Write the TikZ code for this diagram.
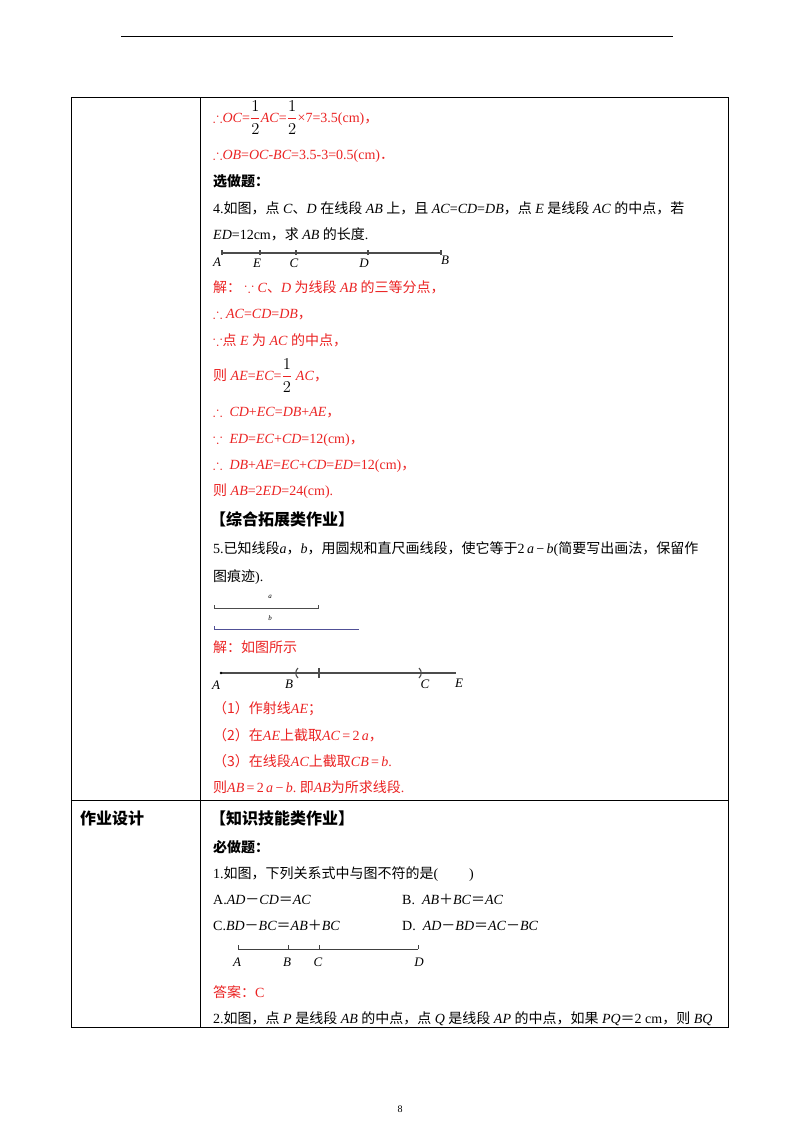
\documentclass[tikz,border=0pt]{standalone}
\usepackage{amsmath,amssymb}
\usepackage{fontspec}
\setmainfont{Liberation Serif}
\newfontfamily\cjk{Noto Sans CJK SC}
\newcommand\z[1]{{\cjk #1}}
\newcommand\iv[1]{\textit{#1}}
\newcommand\hf{\raisebox{-0.1ex}{\scalebox{1.15}{$\dfrac{\textcolor{black}{1}}{\textcolor{black}{2}}$}}}
\definecolor{ans}{RGB}{235,35,35}
\definecolor{bl}{RGB}{80,80,150}
\begin{document}
\begin{tikzpicture}[x=1pt,y=-1pt,
  t/.style={anchor=base west,inner sep=0pt,font=\fontsize{14}{16}\selectfont},
  r/.style={t,text=ans},
  lb/.style={anchor=base,inner sep=0pt,font=\fontsize{13}{15}\selectfont\itshape},
  rule/.style={line width=0.8pt},
  seg/.style={line width=1.1pt,black!70}]
\useasboundingbox (0,0) rectangle (800,1132);
\fill[white] (0,0) rectangle (800,1132);
% header and table
\draw[line width=1pt] (121,37) coordinate (h1) -- (673,37) coordinate (h2);
\coordinate (tl) at (71,97); \coordinate (tr) at (728,97);
\coordinate (bl) at (71,1027); \coordinate (br) at (728,1027);
\draw[rule] (tl) -- (tr) -- (br) -- (bl) -- cycle;
\draw[rule] (200,97) coordinate (d1) -- (200,1027) coordinate (d2);
\draw[rule] (71,800) coordinate (m1) -- (728,800) coordinate (m2);
% content
\node[r] (l1) at (213,122) {$\therefore$\iv{OC}=\hf\iv{AC}=\hf×7=3.5(cm)\z{，}};
\node[r] (l2) at (213,159) {$\therefore$\iv{OB}=\iv{OC-BC}=3.5-3=0.5(cm)\z{．}};
\node[t] (l3) at (213,186) {\z{\bfseries 选做题：}};
\node[t] (l4) at (213,213) {4.\z{如图，点} \iv{C}\z{、}\iv{D} \z{在线段} \iv{AB} \z{上，且} \iv{AC}=\iv{CD}=\iv{DB}\z{，点} \iv{E} \z{是线段} \iv{AC} \z{的中点，若}};
\node[t] (l5) at (213,239) {\iv{ED}=12cm\z{，求} \iv{AB} \z{的长度}.};
% figure 1
\draw[seg] (222,253) coordinate (fA) -- (441,253) coordinate (fB);
\foreach \x in {222,260,296,368,441} \draw[seg] (\x,250) -- (\x,255);
\node[lb] (pA) at (217,266) {A};
\node[lb] (pE) at (257,267) {E};
\node[lb] (pC) at (294,267) {C};
\node[lb] (pD) at (364,267) {D};
\node[lb] (pB) at (445,264) {B};
\node[r] (l6) at (213,292) {\z{解：} $\because$ \iv{C}\z{、}\iv{D} \z{为线段} \iv{AB} \z{的三等分点，}};
\node[r] (l7) at (213,318) {$\therefore$ \iv{AC}=\iv{CD}=\iv{DB}\z{，}};
\node[r] (l8) at (213,345) {$\because$\z{点} \iv{E} \z{为} \iv{AC} \z{的中点，}};
\node[r] (l9) at (213,380) {\z{则} \iv{AE}=\iv{EC}=\hf\ \iv{AC}\z{，}};
\node[r] (l10) at (213,416) {$\therefore$ \ \iv{CD}+\iv{EC}=\iv{DB}+\iv{AE}\z{，}};
\node[r] (l11) at (213,443) {$\because$ \ \iv{ED}=\iv{EC}+\iv{CD}=12(cm)\z{，}};
\node[r] (l12) at (213,469) {$\therefore$ \ \iv{DB}+\iv{AE}=\iv{EC}+\iv{CD}=\iv{ED}=12(cm)\z{，}};
\node[r] (l13) at (213,495) {\z{则} \iv{AB}=2\iv{ED}=24(cm).};
\node[t,font=\fontsize{16}{18}\selectfont] (l14) at (210,525) {\z{\bfseries 【综合拓展类作业】}};
\node[t] (l15) at (213,553) {5.\z{已知线段}\iv{a}\z{，}\iv{b}\z{，用圆规和直尺画线段，使它等于}2\,\iv{a}\,−\,\iv{b}(\z{简要写出画法，保留作}};
\node[t] (l16) at (213,581) {\z{图痕迹}).};
% figure a b
\node[lb,font=\fontsize{7}{8}\selectfont\itshape] (la) at (270,598) {a};
\draw[black!70,line width=0.6pt] (214,605) coordinate (a1) -- (214,608) -- (318,608) -- (318,605) coordinate (a2);
\node[lb,font=\fontsize{7}{8}\selectfont\itshape] (lbb) at (270,620) {b};
\draw[bl,line width=0.6pt] (214,626) coordinate (b1) -- (214,629) -- (359,629) coordinate (b2);
\node[r] (l17) at (213,652) {\z{解：如图所示}};
% figure 2
\draw[seg] (221,673) coordinate (gA) -- (456,673) coordinate (gE);
\fill[black] (221,673) circle (1.3);
\draw[seg] (298,668) .. controls (295,671) and (295,675) .. (298,678);
\draw[seg] (319,668) -- (319,678);
\draw[seg] (419,668) .. controls (422,671) and (422,675) .. (419,678);
\node[lb] (qA) at (216,689) {A};
\node[lb] (qB) at (289,688) {B};
\node[lb] (qC) at (425,688) {C};
\node[lb] (qE) at (459,687) {E};
\node[r] (l18) at (213,713) {\z{（1）作射线}\iv{AE}\z{；}};
\node[r] (l19) at (213,740) {\z{（2）在}\iv{AE}\z{上截取}\iv{AC}\,=\,2\,\iv{a}\z{，}};
\node[r] (l20) at (213,766) {\z{（3）在线段}\iv{AC}\z{上截取}\iv{CB}\,=\,\iv{b}.};
\node[r] (l21) at (213,792) {\z{则}\iv{AB}\,=\,2\,\iv{a}\,−\,\iv{b}.\ \z{即}\iv{AB}\z{为所求线段}.};
\node[t,font=\fontsize{16}{18}\selectfont] (c1) at (80,824) {\z{\bfseries 作业设计}};
\node[t,font=\fontsize{16}{18}\selectfont] (l22) at (210,824) {\z{\bfseries 【知识技能类作业】}};
\node[t] (l23) at (213,852) {\z{\bfseries 必做题：}};
\node[t] (l24) at (213,878) {1.\z{如图，下列关系式中与图不符的是}(\hspace{2.2em})};
\node[t] (l25) at (213,904) {A.\iv{AD}\z{－}\iv{CD}\z{＝}\iv{AC}};
\node[t] (l26) at (402,904) {B.\ \ \iv{AB}\z{＋}\iv{BC}\z{＝}\iv{AC}};
\node[t] (l27) at (213,930) {C.\iv{BD}\z{－}\iv{BC}\z{＝}\iv{AB}\z{＋}\iv{BC}};
\node[t] (l28) at (402,930) {D.\ \ \iv{AD}\z{－}\iv{BD}\z{＝}\iv{AC}\z{－}\iv{BC}};
% figure 3
\draw[black!75,line width=0.7pt] (238,949) coordinate (kA) -- (418,949) coordinate (kD);
\foreach \x in {238,288,319,418} \draw[black!75,line width=0.7pt] (\x,945) -- (\x,949);
\node[lb] (sA) at (237,966) {A};
\node[lb] (sB) at (287,966) {B};
\node[lb] (sC) at (318,966) {C};
\node[lb] (sD) at (419,966) {D};
\node[r] (l29) at (213,997) {\z{答案：}C};
\node[t] (l30) at (213,1023) {2.\z{如图，点} \iv{P} \z{是线段} \iv{AB} \z{的中点，点} \iv{Q} \z{是线段} \iv{AP} \z{的中点，如果} \iv{PQ}\z{＝}2 cm\z{，则} \iv{BQ}};
\node[anchor=base,inner sep=0pt,font=\fontsize{10}{12}\selectfont] (pg) at (400,1112) {8};
\end{tikzpicture}
\end{document}
